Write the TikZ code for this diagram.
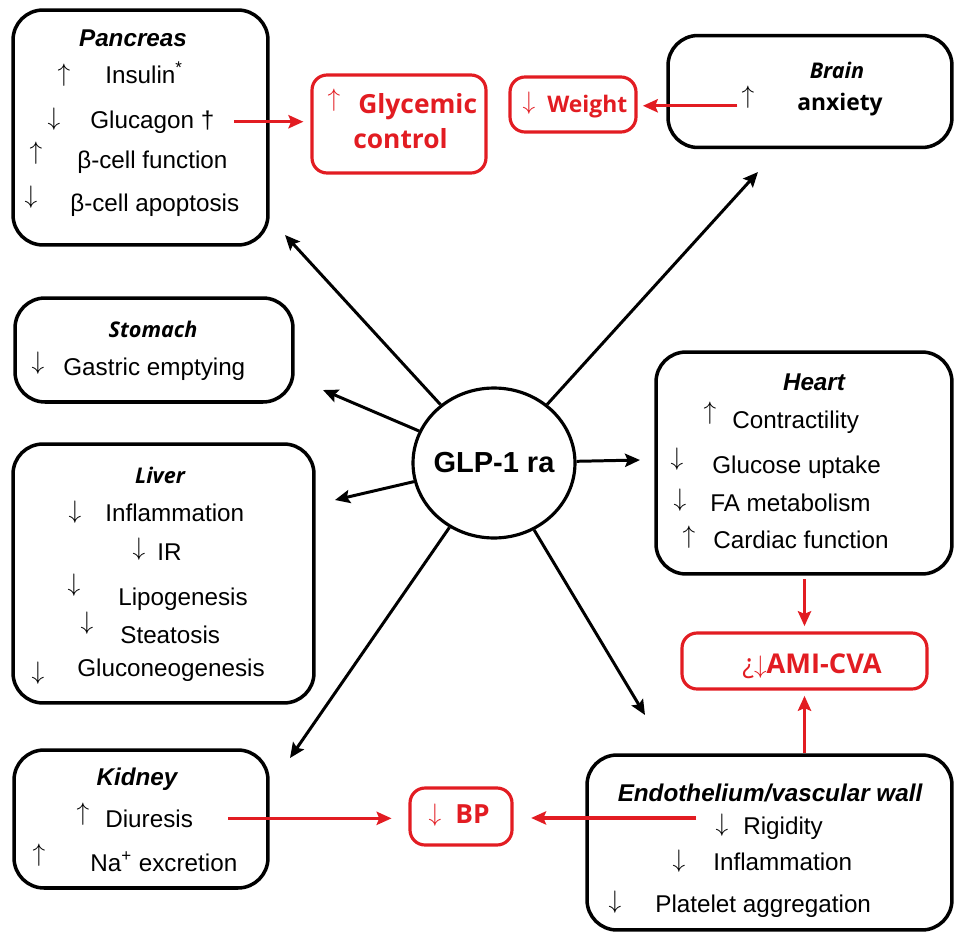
\documentclass[tikz,border=0pt]{standalone}
\usepackage{fontspec}
\setmainfont{Liberation Sans}
\newfontfamily\opensans{Open Sans}
\usetikzlibrary{shapes,arrows.meta,positioning}
\definecolor{glpred}{RGB}{226,28,34}
\newcommand{\bodysize}{\fontsize{13.8pt}{16pt}\selectfont}

\begin{document}
\begin{tikzpicture}[
    x=0.02cm, y=-0.02cm,
    organ/.style={draw=black, line width=2pt, rounded corners=0.6cm, inner sep=0},
    effect/.style={draw=glpred, line width=1.8pt, rounded corners=0.3cm, inner sep=0},
    title/.style={anchor=base, inner sep=0, font=\bodysize\bfseries\itshape},
    titleos/.style={anchor=base, inner sep=0, font=\fontsize{12.3pt}{15pt}\selectfont\opensans\bfseries\itshape},
    item/.style={anchor=base west, inner sep=0, font=\bodysize},
    updown/.style={inner sep=0, font=\bodysize},
    result/.style={anchor=base west, inner sep=0, text=glpred},
    arrow/.style={line width=1.7pt, -{Stealth[length=8.5pt, width=7.5pt, inset=1.5pt]}},
    redarrow/.style={arrow, draw=glpred, fill=glpred, line width=1.8pt}
]
\useasboundingbox (0,0) rectangle (954,933);

% GLP-1 ra
\node[draw, ellipse, line width=1.8pt, inner sep=0, minimum width=3.24cm, minimum height=3cm,
      font=\fontsize{16.5pt}{19pt}\selectfont\bfseries] (glp) at (494,463) {\makebox[0pt]{GLP-1 ra}};

% Pancreas
\node[organ, minimum width=5.1cm, minimum height=4.7cm] (pancreas) at (140.5,127.5) {};
\node[title] (panc-t) at (133,47) {Pancreas};
\node[updown] (ins-a) at (64,75) {$\uparrow$};
\node[item] (ins) at (105,83) {Insulin\textsuperscript{*}};
\node[updown] (glu-a) at (54,119) {$\downarrow$};
\node[item] (glu) at (90,128) {Glucagon †};
\node[updown] (bfun-a) at (36,153) {$\uparrow$};
\node[item] (bfun) at (77,168) {β-cell function};
\node[updown] (bapo-a) at (31,197) {$\downarrow$};
\node[item] (bapo) at (70,211) {β-cell apoptosis};

% Glycemic control
\node[effect, minimum width=3.48cm, minimum height=1.96cm] (glyc) at (399,124) {};
\node[updown, text=glpred, font=\fontsize{15.5pt}{18pt}\selectfont] (glyc-a) at (334,100) {$\uparrow$};
\node[result, font=\fontsize{15pt}{18pt}\selectfont\opensans\bfseries] (glyc-t1) at (358,113) {Glycemic};
\node[result, font=\fontsize{15pt}{18pt}\selectfont\opensans\bfseries] (glyc-t2) at (353,148) {control};

% Weight
\node[effect, minimum width=2.52cm, minimum height=1.1cm] (weight) at (573,104.5) {};
\node[updown, text=glpred, font=\fontsize{15pt}{18pt}\selectfont] (weight-a) at (529,103) {$\downarrow$};
\node[result, font=\fontsize{13pt}{16pt}\selectfont\opensans\bfseries] (weight-t) at (547,112) {Weight};

% Brain
\node[organ, minimum width=5.68cm, minimum height=2.24cm] (brain) at (810,91.5) {};
\node[titleos] (brain-t) at (837,78) {Brain};
\node[updown] (anx-a) at (748,97) {$\uparrow$};
\node[anchor=base west, inner sep=0, font=\fontsize{13pt}{16pt}\selectfont\opensans\bfseries] (anx) at (797,110) {anxiety};

% Stomach
\node[organ, minimum width=5.56cm, minimum height=2.08cm] (stomach) at (154,350) {};
\node[titleos] (stom-t) at (153,337) {Stomach};
\node[updown] (gast-a) at (38,363) {$\downarrow$};
\node[item] (gast) at (63,375) {Gastric emptying};

% Liver
\node[organ, minimum width=6.02cm, minimum height=5.18cm] (liver) at (163.5,573.5) {};
\node[titleos] (liver-t) at (160,483) {Liver};
\node[updown] (linf-a) at (75,512) {$\downarrow$};
\node[item] (linf) at (105,521) {Inflammation};
\node[updown] (ir-a) at (139,549) {$\downarrow$};
\node[item] (ir) at (157,560) {IR};
\node[updown] (lipo-a) at (74,585) {$\downarrow$};
\node[item] (lipo) at (118,605) {Lipogenesis};
\node[updown] (stea-a) at (87,623) {$\downarrow$};
\node[item] (stea) at (120,643) {Steatosis};
\node[updown] (gneo-a) at (38,673) {$\downarrow$};
\node[item] (gneo) at (77,676) {Gluconeogenesis};

% Kidney
\node[organ, minimum width=5.08cm, minimum height=2.76cm] (kidney) at (141,819) {};
\node[title] (kid-t) at (137,785) {Kidney};
\node[updown] (diu-a) at (83,814) {$\uparrow$};
\node[item] (diu) at (105,827) {Diuresis};
\node[updown] (na-a) at (39,855) {$\uparrow$};
\node[item] (na) at (90,871) {Na\textsuperscript{+} excretion};

% BP
\node[effect, minimum width=2.04cm, minimum height=1.14cm] (bp) at (461,816.5) {};
\node[updown, text=glpred, font=\fontsize{15pt}{18pt}\selectfont] (bp-a) at (435,815) {$\downarrow$};
\node[result, font=\fontsize{15pt}{18pt}\selectfont\opensans\bfseries] (bp-t) at (455,823) {BP};

% Endothelium
\node[organ, minimum width=7.3cm, minimum height=3.5cm] (endo) at (769.5,842.5) {};
\node[title] (endo-t) at (770,801) {Endothelium/vascular wall};
\node[updown] (rig-a) at (722,825) {$\downarrow$};
\node[item] (rig) at (743,834) {Rigidity};
\node[updown] (vinf-a) at (679,861) {$\downarrow$};
\node[item] (vinf) at (713,870) {Inflammation};
\node[updown] (plt-a) at (615,902) {$\downarrow$};
\node[item] (plt) at (655,912) {Platelet aggregation};

% Heart
\node[organ, minimum width=5.92cm, minimum height=4.44cm] (heart) at (804,463) {};
\node[title] (heart-t) at (814,390) {Heart};
\node[updown] (con-a) at (710,413) {$\uparrow$};
\node[item] (con) at (732,428) {Contractility};
\node[updown] (gup-a) at (677,459) {$\downarrow$};
\node[item] (gup) at (712,473) {Glucose uptake};
\node[updown] (fa-a) at (680,500) {$\downarrow$};
\node[item] (fa) at (710,511) {FA metabolism};
\node[updown] (card-a) at (689,537) {$\uparrow$};
\node[item] (card) at (713,548) {Cardiac function};

% AMI-CVA
\node[effect, minimum width=4.9cm, minimum height=1.12cm] (ami) at (804.5,661) {};
\node[result, font=\fontsize{15.5pt}{18pt}\selectfont\opensans\bfseries] (ami-t) at (742,673) {\mdseries¿$\downarrow$\bfseries AMI-CVA};

% Arrows from GLP-1 ra
\coordinate (panc-in) at (285,235);
\coordinate (stom-in) at (323,390);
\coordinate (liver-in) at (335,500);
\coordinate (kid-in) at (290,758);
\coordinate (endo-in) at (645,715);
\coordinate (heart-in) at (640,460);
\coordinate (brain-in) at (758,172);
\draw[arrow] (glp) -- (panc-in);
\draw[arrow] (glp) -- (stom-in);
\draw[arrow] (glp) -- (liver-in);
\draw[arrow] (glp) -- (kid-in);
\draw[arrow] (glp) -- (endo-in);
\draw[arrow] (glp) -- (heart-in);
\draw[arrow] (glp) -- (brain-in);

% Red arrows
\draw[redarrow, shorten >=4pt] ([xshift=11pt]glu.east) -- (glu.east -| glyc.west);
\draw[redarrow, shorten >=3pt] ([xshift=-2.3pt, yshift=-5pt]anx-a.west) -- ([yshift=-5pt]anx-a.west -| weight.east);
\draw[redarrow, shorten <=2pt, shorten >=3pt] (heart.south -| ami.north) -- (ami.north);
\draw[redarrow, shorten >=3pt] (endo.north -| ami.south) -- (ami.south);
\draw[redarrow, shorten >=9.6pt] ([xshift=20pt]diu.east) -- (diu.east -| bp.west);
\draw[redarrow, shorten >=10pt] ([xshift=-10.8pt, yshift=4pt]rig-a.west) -- ([yshift=4pt]rig-a.west -| bp.east);
\end{tikzpicture}
\end{document}
